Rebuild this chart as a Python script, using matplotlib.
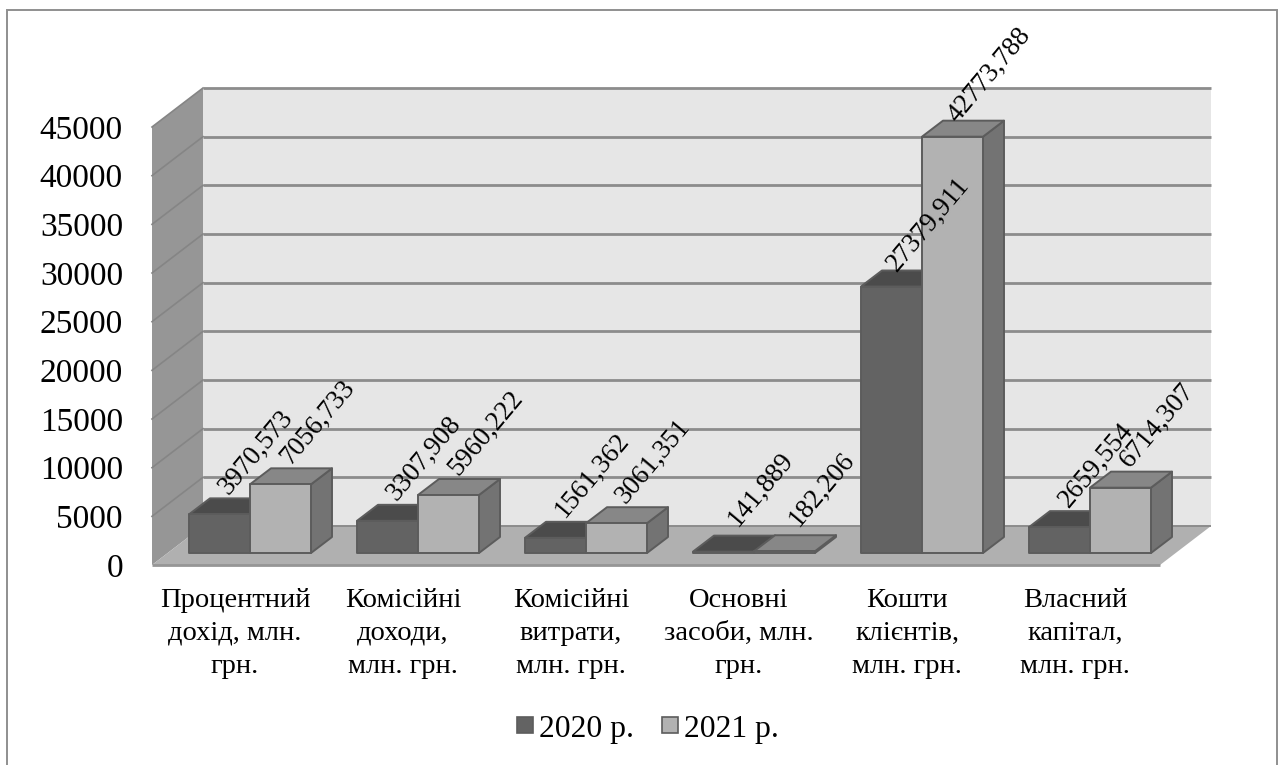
import matplotlib
matplotlib.use("Agg")
import matplotlib.pyplot as plt
from matplotlib.patches import Polygon, Rectangle
from matplotlib.lines import Line2D

plt.rcParams['font.family'] = ['Liberation Serif', 'DejaVu Serif']

categories = ["Процентний\nдохід, млн.\nгрн.", "Комісійні\nдоходи,\nмлн. грн.",
              "Комісійні\nвитрати,\nмлн. грн.", "Основні\nзасоби, млн.\nгрн.",
              "Кошти\nклієнтів,\nмлн. грн.", "Власний\nкапітал,\nмлн. грн."]
values_2020 = [3970.573, 3307.908, 1561.362, 141.889, 27379.911, 2659.554]
values_2021 = [7056.733, 5960.222, 3061.351, 182.206, 42773.788, 6714.307]
labels_2020 = ["3970,573", "3307,908", "1561,362", "141,889", "27379,911", "2659,554"]
labels_2021 = ["7056,733", "5960,222", "3061,351", "182,206", "42773,788", "6714,307"]
y_ticks = [0, 5000, 10000, 15000, 20000, 25000, 30000, 35000, 40000, 45000]
series_names = ["2020 р.", "2021 р."]

W, H = 1283, 765
fig = plt.figure(figsize=(W / 100, H / 100), dpi=100, facecolor="white")
# Outer frame runs off the lower edge of the figure
fig.add_artist(Rectangle((7 / W, -20 / H), 1270 / W, (H - 10 + 20) / H, transform=fig.transFigure,
                         fill=False, edgecolor="#8f8f8f", linewidth=1.4, clip_on=True))

# Front plane of the pseudo-3D box
left, right, bottom, top = 152, 1160, 565, 127
ax = fig.add_axes([left / W, 1 - bottom / H, (right - left) / W, (bottom - top) / H])
ax.set_xlim(0, 6)
ax.set_ylim(0, 45000)
ax.axis("off")

px_x = 6 / (right - left)
px_y = 45000 / (bottom - top)
depth_x, depth_y = 51 * px_x, 39 * px_y     # box depth
bar_w = 61 * px_x                           # width of one bar
bar_dx, bar_dy = 21 * px_x, 16 * px_y       # depth of one bar
base_x, base_y = 14 * px_x, 12 * px_y       # shift of the bars' front face from the box front

GRID = "#8c8c8c"
EDGE = "#5c5c5c"

def poly(points, face, edge="none", lw=0.0, z=1):
    ax.add_patch(Polygon(points, closed=True, facecolor=face, edgecolor=edge,
                         linewidth=lw, zorder=z, clip_on=False, joinstyle="round"))

# Walls and floor
poly([(depth_x, depth_y), (6 + depth_x, depth_y), (6 + depth_x, 45000 + depth_y), (depth_x, 45000 + depth_y)], "#e6e6e6")
poly([(0, 0), (depth_x, depth_y), (depth_x, 45000 + depth_y), (0, 45000)], "#969696")
poly([(0, 0), (6, 0), (6 + depth_x, depth_y), (depth_x, depth_y)], "#b0b0b0")
ax.plot([0, 6], [0, 0], color="#969696", lw=2, zorder=2, clip_on=False, solid_capstyle="butt")
for t in y_ticks:
    lw = 2 if t else 1.4
    ax.plot([depth_x, 6 + depth_x], [t + depth_y] * 2, color=GRID, lw=lw, zorder=2, clip_on=False, solid_capstyle="butt")
    if t:
        ax.plot([0, depth_x], [t, t + depth_y], color="#858585", lw=1.2, zorder=2, clip_on=False)
    ax.text(-29 * px_x, t, str(t), ha="right", va="center_baseline", fontsize=24, color="black", clip_on=False)

def bar(i, offset, value, front, top_face, side_face, z):
    x0 = i + 0.5 + base_x + offset * bar_w
    x1 = x0 + bar_w
    y0, y1 = base_y, base_y + value
    poly([(x1, y0), (x1 + bar_dx, y0 + bar_dy), (x1 + bar_dx, y1 + bar_dy), (x1, y1)], side_face, EDGE, 1.4, z)
    poly([(x0, y1), (x1, y1), (x1 + bar_dx, y1 + bar_dy), (x0 + bar_dx, y1 + bar_dy)], top_face, EDGE, 1.4, z)
    poly([(x0, y0), (x1, y0), (x1, y1), (x0, y1)], front, EDGE, 1.4, z)

for i in range(len(categories)):
    bar(i, -1, values_2020[i], "#636363", "#4b4b4b", "#4b4b4b", 3)
    bar(i, 0, values_2021[i], "#b2b2b2", "#878787", "#737373", 4)

# Value labels, running steeply upward above each bar
for i in range(len(categories)):
    for offset, value, text in ((-1, values_2020[i], labels_2020[i]), (0, values_2021[i], labels_2021[i])):
        x = i + 0.5 + base_x + (offset + 0.5) * bar_w
        ax.annotate(text, (x, base_y + value), xytext=(37 * 0.72, 62 * 0.72), textcoords="offset points",
                    rotation=50, rotation_mode="anchor", ha="center", va="center",
                    fontsize=19.5, color="black", zorder=6, annotation_clip=False)

# Category labels below the floor
for i, name in enumerate(categories):
    ax.text(i + 0.5 - 1 * px_x, -23 * px_y, name, ha="center", va="top", fontsize=20.5, linespacing=1.42, clip_on=False)

# Legend drawn with square swatches
handles = [Line2D([], [], marker="s", ls="", ms=12, mfc="#636363", mec=EDGE, mew=1.2),
           Line2D([], [], marker="s", ls="", ms=12, mfc="#b2b2b2", mec=EDGE, mew=1.2)]
fig.legend(handles, series_names, loc="center", bbox_to_anchor=(644 / W, 1 - 729 / H), ncol=2, frameon=False,
           fontsize=22.8, handletextpad=-0.05, columnspacing=0.62, handlelength=1.0, borderpad=0)

fig.savefig("out.png", dpi=100)
